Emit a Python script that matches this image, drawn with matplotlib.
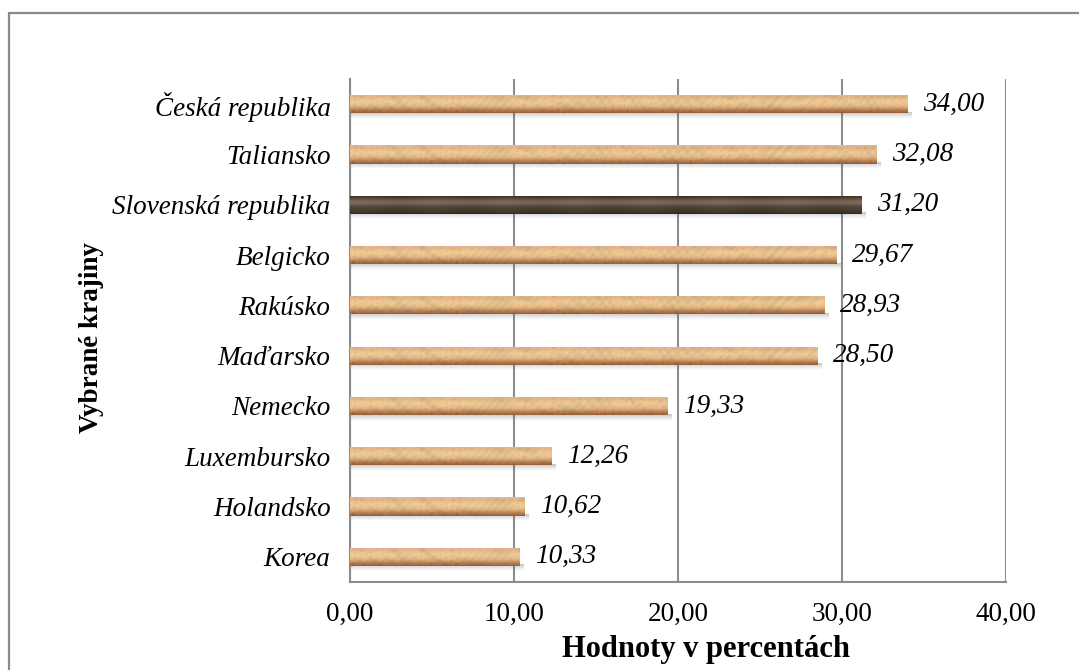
import numpy as np
import matplotlib
matplotlib.use("Agg")
import matplotlib.pyplot as plt
from matplotlib.patches import Rectangle

countries = ["Korea", "Holandsko", "Luxembursko", "Nemecko", "Maďarsko",
             "Rakúsko", "Belgicko", "Slovenská republika", "Taliansko",
             "Česká republika"]
values = [10.33, 10.62, 12.26, 19.33, 28.50, 28.93, 29.67, 31.20, 32.08, 34.00]
highlight = "Slovenská republika"
xticks = [0, 10, 20, 30, 40]

plt.rcParams["font.family"] = ["Liberation Serif", "DejaVu Serif"]

W, H = 1079, 670
fig = plt.figure(figsize=(W / 100, H / 100), dpi=100)
fig.patch.set_facecolor("white")

# outer chart-area frame
fig.add_artist(Rectangle((9 / W, -0.05), 1.2, 1 - 13 / H + 0.05,
                         transform=fig.transFigure, fill=False,
                         edgecolor="#8a8a8a", linewidth=1.6))

left, right, top, bottom = 350, 1006, 79, 582
ax = fig.add_axes([left / W, 1 - bottom / H, (right - left) / W, (bottom - top) / H])

bar_h = 0.36
ypos = np.arange(len(countries))


def cork_texture(ncols, nrows=24, dark=False):
    """Cylinder-shaded, mottled fill for a bar."""
    yy = np.linspace(0, 1, nrows)[:, None]          # 0 = bottom, 1 = top
    xx = np.linspace(0, ncols / 10.0, ncols)[None, :]
    if dark:
        base = np.array([0.29, 0.23, 0.18])
        hi = np.array([0.47, 0.41, 0.35])
        prof = np.exp(-((yy - 0.62) / 0.2) ** 2)
        img = base[None, None, :] + (hi - base)[None, None, :] * prof[..., None]
        edge = np.clip(1 - 4 * np.minimum(yy, 1 - yy), 0, 1) ** 2
        img = img * (1 - 0.3 * edge[..., None])
        img = np.broadcast_to(img, (nrows, ncols, 3)).copy()
        streak = 0.012 * np.sin(0.9 * xx + 0.5)
        img += streak[..., None]
        return np.clip(img[::-1], 0, 1)
    light = np.array([0.92, 0.78, 0.58])
    mid = np.array([0.84, 0.65, 0.46])
    darkc = np.array([0.60, 0.38, 0.23])
    pink = np.array([0.90, 0.72, 0.64])
    prof = np.exp(-((yy - 0.6) / 0.28) ** 2)
    img = mid[None, None, :] + (light - mid)[None, None, :] * prof[..., None]
    low = np.clip((0.33 - yy) / 0.33, 0, 1)
    img = img + (darkc - img) * low[..., None]
    topb = np.clip((yy - 0.86) / 0.14, 0, 1)
    img = img + (pink - img) * topb[..., None]
    img = np.broadcast_to(img, (nrows, ncols, 3)).copy()
    mott = (0.40 * np.sin(1.3 * xx + 2.2 * np.sin(3.7 * yy + 0.6 * xx))
            + 0.30 * np.sin(3.1 * xx * (1 + 0.3 * np.sin(0.23 * xx)) + 9.0 * yy)
            + 0.30 * np.sin(7.7 * xx - 13.0 * yy + 2.0 * np.sin(0.5 * xx)))
    spots = np.clip(mott - 0.45, 0, None) * 0.55
    img = img * (1 + 0.07 * mott)[..., None] - spots[..., None] * np.array([0.25, 0.33, 0.42])
    return np.clip(img[::-1], 0, 1)


for y, v, name in zip(ypos, values, countries):
    dark = name == highlight
    # soft drop shadow under the bar
    sh = np.linspace(0, 1, 12)[:, None] * np.ones((1, 4))
    shadow = np.zeros((12, 4, 4))
    shadow[..., :3] = 0.35
    shadow[..., 3] = 0.35 * (1 - sh) ** 1.5
    ax.imshow(shadow, extent=[0.05, v + 0.25, y - bar_h / 2 - 0.13, y - bar_h / 2 + 0.02],
              aspect="auto", interpolation="bilinear", zorder=2, origin="upper")
    bar = ax.barh(y, v, height=bar_h, color="none", edgecolor="none", zorder=3)[0]
    tex = cork_texture(max(int(v * 16), 10), dark=dark)
    im = ax.imshow(tex, extent=[0, v, y - bar_h / 2, y + bar_h / 2],
                   aspect="auto", interpolation="bilinear", zorder=3)
    im.set_clip_path(bar)
    ax.text(v + 0.95, y, f"{v:.2f}".replace(".", ","), ha="left", va="center",
            fontsize=19.5, style="italic", zorder=5)

ax.set_xlim(0, 40)
ax.set_ylim(-0.5, len(countries) - 0.5)
ax.set_xticks(xticks)
ax.set_xticklabels([f"{t:.2f}".replace(".", ",") for t in xticks], fontsize=19.5)
ax.set_yticks(ypos)
ax.set_yticklabels(countries, fontsize=19.5, style="italic")
ax.tick_params(axis="both", length=0)
ax.tick_params(axis="x", pad=14)
ax.tick_params(axis="y", pad=14)

ax.grid(axis="x", color="#8c8c8c", linewidth=1.5, zorder=1)
ax.set_axisbelow(True)
for s in ["top", "right"]:
    ax.spines[s].set_visible(False)
for s in ["left", "bottom"]:
    ax.spines[s].set_color("#8c8c8c")
    ax.spines[s].set_linewidth(1.5)

ax.set_xlabel("Hodnoty v percentách", fontsize=22, fontweight="bold")
ax.set_ylabel("Vybrané krajiny", fontsize=19.5, fontweight="bold")
ax.xaxis.set_label_coords((706 - left) / (right - left), -(650 - bottom) / (bottom - top),
                          transform=ax.transAxes)
ax.xaxis.label.set_va("center")
ax.yaxis.set_label_coords(-(left - 92) / (right - left), (bottom - 338) / (bottom - top),
                          transform=ax.transAxes)
ax.yaxis.label.set_va("center")

fig.savefig("out.png", dpi=100, facecolor="white")
